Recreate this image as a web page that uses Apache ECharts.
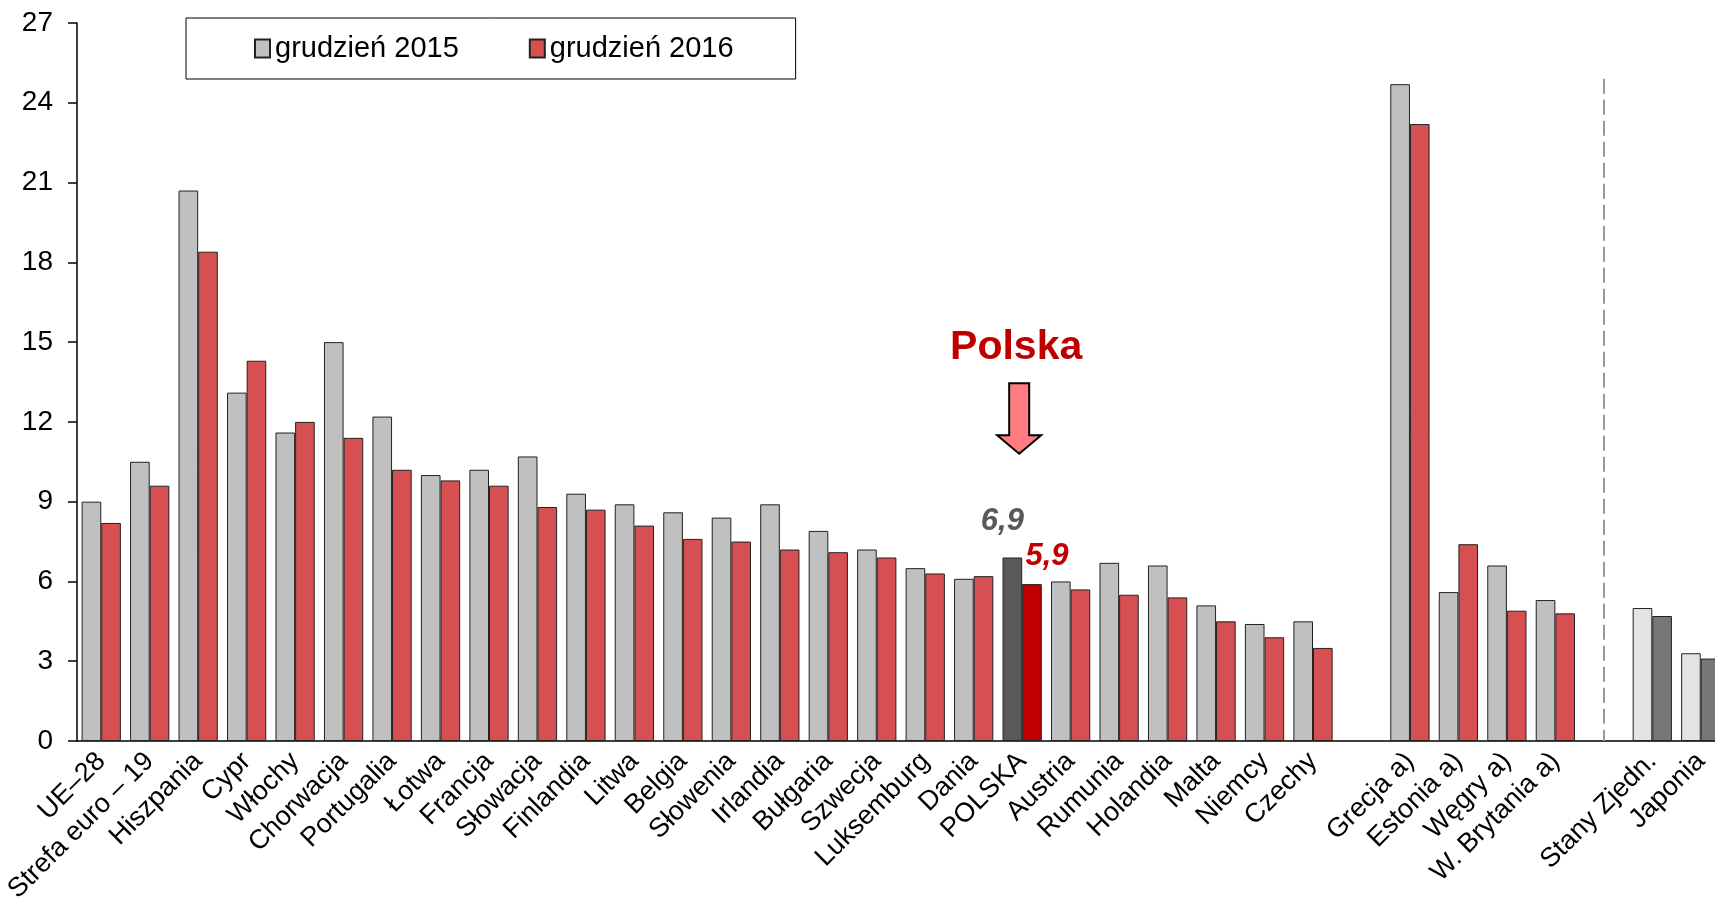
<!DOCTYPE html>
<html>
<head>
<meta charset="utf-8">
<script src="https://cdn.jsdelivr.net/npm/echarts@6/dist/echarts.min.js"></script>
<style>
  html, body { margin: 0; padding: 0; background: #fff; }
  #chart { width: 1715px; height: 899px; }
</style>
</head>
<body>
<div id="chart"></div>
<script>
// kategorie (puste pozycje = przerwy między grupami)
const kraje = ['UE–28', 'Strefa euro – 19', 'Hiszpania', 'Cypr', 'Włochy', 'Chorwacja', 'Portugalia',
  'Łotwa', 'Francja', 'Słowacja', 'Finlandia', 'Litwa', 'Belgia', 'Słowenia', 'Irlandia', 'Bułgaria',
  'Szwecja', 'Luksemburg', 'Dania', 'POLSKA', 'Austria', 'Rumunia', 'Holandia', 'Malta', 'Niemcy',
  'Czechy', ' ', 'Grecja a)', 'Estonia a)', 'Węgry a)', 'W. Brytania a)', '  ', 'Stany Zjedn.', 'Japonia']

// stopa bezrobocia, %
const grudzien2015 = [9.0, 10.5, 20.7, 13.1, 11.6, 15.0, 12.2, 10.0, 10.2, 10.7, 9.3, 8.9, 8.6, 8.4, 8.9, 7.9,
  7.2, 6.5, 6.1, 6.9, 6.0, 6.7, 6.6, 5.1, 4.4, 4.5, null, 24.7, 5.6, 6.6, 5.3, null, 5.0, 3.3]
const grudzien2016 = [8.2, 9.6, 18.4, 14.3, 12.0, 11.4, 10.2, 9.8, 9.6, 8.8, 8.7, 8.1, 7.6, 7.5, 7.2, 7.1,
  6.9, 6.3, 6.2, 5.9, 5.7, 5.5, 5.4, 4.5, 3.9, 3.5, null, 23.2, 7.4, 4.9, 4.8, null, 4.7, 3.1]

const yTicks = [0, 3, 6, 9, 12, 15, 18, 21, 24, 27]

const FONT = 'Liberation Sans, Arial, sans-serif'
const polIdx = kraje.indexOf('POLSKA')
const spoza = ['Stany Zjedn.', 'Japonia']

// kolory pojedynczych słupków
function slupki (dane, rok) {
  return dane.map((v, i) => {
    if (i === polIdx) {
      return {
        value: v,
        itemStyle: { color: rok === 2015 ? '#595959' : '#C00000' },
        label: {
          show: true,
          position: 'top',
          formatter: p => String(p.value).replace('.', ','),
          fontFamily: FONT,
          fontSize: 31,
          fontWeight: 'bold',
          fontStyle: 'italic',
          color: rok === 2015 ? '#595959' : '#C00000',
          offset: rok === 2015 ? [-10, -16] : [15, -7]
        }
      }
    }
    if (spoza.indexOf(kraje[i]) >= 0) {
      return { value: v, itemStyle: { color: rok === 2015 ? '#E3E3E3' : '#777777' } }
    }
    return v
  })
}

const chart = echarts.init(document.getElementById('chart'))

chart.setOption({
  backgroundColor: '#fff',
  animation: false,
  textStyle: { fontFamily: FONT },
  // wykres jest ucięty z prawej strony, jak w oryginale
  grid: { left: 77, width: 1648, top: 23, bottom: 158, containLabel: false, outerBoundsMode: 'none' },
  legend: {
    left: 186,
    top: 18,
    padding: [16, 62, 16, 68],
    borderColor: '#000',
    borderWidth: 1,
    itemWidth: 15,
    itemHeight: 18,
    itemGap: 70,
    icon: 'rect',
    textStyle: { fontSize: 29, color: '#000', fontFamily: FONT },
    data: ['grudzień 2015', 'grudzień 2016']
  },
  xAxis: {
    type: 'category',
    data: kraje,
    axisLine: { lineStyle: { color: '#000', width: 1.5 } },
    axisTick: { length: 6, lineStyle: { color: '#000', width: 1.5 } },
    axisLabel: { rotate: 45, margin: 16, fontSize: 27, color: '#000', interval: 0, fontFamily: FONT }
  },
  yAxis: {
    type: 'value',
    min: yTicks[0],
    max: yTicks[yTicks.length - 1],
    interval: 3,
    splitLine: { show: false },
    axisLine: { show: true, lineStyle: { color: '#000', width: 1.5 } },
    axisTick: { show: true, length: 9, lineStyle: { color: '#000', width: 1.5 } },
    axisLabel: { margin: 24, fontSize: 28, color: '#000', fontFamily: FONT }
  },
  series: [
    {
      name: 'grudzień 2015',
      type: 'bar',
      barGap: '0%',
      barCategoryGap: '19%',
      itemStyle: { color: '#C0C0C0', borderColor: '#222', borderWidth: 1 },
      data: slupki(grudzien2015, 2015)
    },
    {
      name: 'grudzień 2016',
      type: 'bar',
      itemStyle: { color: '#D64F51', borderColor: '#222', borderWidth: 1 },
      data: slupki(grudzien2016, 2016)
    },
    {
      // tylko przerywana linia oddzielająca kraje spoza UE
      name: 'separator',
      type: 'line',
      data: kraje.map(() => null),
      silent: true,
      markLine: {
        silent: true,
        symbol: 'none',
        label: { show: false },
        lineStyle: { color: '#999', width: 2, type: [15, 6] },
        data: [[{ coord: [31, 24.9] }, { coord: [31, 0] }]]
      }
    }
  ]
})

// strzałka i napis „Polska” nad słupkami Polski
function adnotacje () {
  const cx = chart.convertToPixel({ xAxisIndex: 0 }, polIdx) - 3
  const y = v => chart.convertToPixel({ yAxisIndex: 0 }, v)
  const gora = y(13.45), szyja = y(11.5), grot = y(10.8)
  chart.setOption({
    graphic: [
      {
        type: 'polygon',
        shape: {
          points: [[cx - 10, gora], [cx + 10, gora], [cx + 10, szyja], [cx + 22, szyja],
            [cx, grot], [cx - 22, szyja], [cx - 10, szyja]]
        },
        style: { fill: '#FF7C80', stroke: '#000', lineWidth: 2 }
      },
      {
        type: 'text',
        x: cx - 3,
        y: y(14.8),
        style: {
          text: 'Polska',
          font: 'bold 41px ' + FONT,
          fill: '#C00000',
          textAlign: 'center',
          textVerticalAlign: 'middle'
        }
      }
    ]
  })
}
adnotacje()
</script>
</body>
</html>
